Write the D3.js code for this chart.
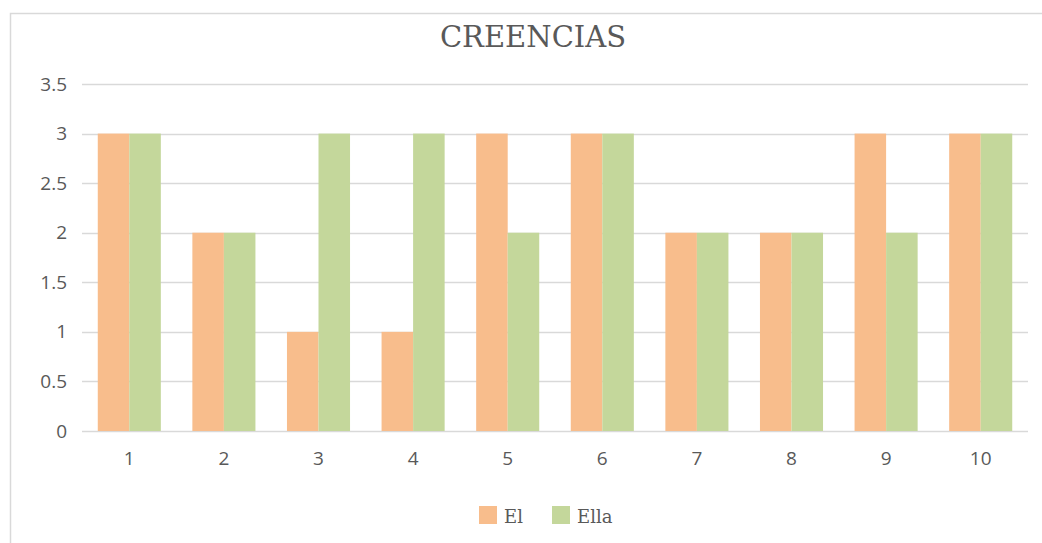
<!DOCTYPE html>
<html>
<head>
<meta charset="utf-8">
<script src="https://cdn.jsdelivr.net/npm/d3@7"></script>
<style>
  body { margin: 0; background: #fff; }
</style>
</head>
<body>
<div id="chart"></div>
<script>
var categories = ["1", "2", "3", "4", "5", "6", "7", "8", "9", "10"];
var el = [3, 2, 1, 1, 3, 3, 2, 2, 3, 3];
var ella = [3, 2, 3, 3, 2, 3, 2, 2, 2, 3];
var seriesNames = ["El", "Ella"];
var colors = ["#F8BD8C", "#C4D79B"];
var yTicks = [0, 0.5, 1, 1.5, 2, 2.5, 3, 3.5];

var W = 1042, H = 543;
var margin = { top: 84, left: 82, right: 14, bottom: 112 };
var width = W - margin.left - margin.right,
    height = H - margin.top - margin.bottom;

var svg = d3.select("#chart").append("svg")
    .attr("width", W).attr("height", H);

// chart frame
svg.append("path")
    .attr("d", "M10.5," + H + "V13.5H" + W)
    .attr("fill", "none").attr("stroke", "#d9d9d9").attr("stroke-width", 1.5);

svg.append("text")
    .attr("x", 533).attr("y", 47)
    .attr("text-anchor", "middle")
    .style("font-family", "'DejaVu Serif', serif")
    .style("font-size", "29px")
    .style("fill", "#595959")
    .text("CREENCIAS");

var g = svg.append("g")
    .attr("transform", "translate(" + margin.left + "," + margin.top + ")");

var x = d3.scaleBand().domain(categories).range([0, width]).paddingInner(1 / 3).paddingOuter(1 / 6);
var x1 = d3.scaleBand().domain(seriesNames).range([0, x.bandwidth()]);
var y = d3.scaleLinear().domain([0, 3.5]).range([height, 0]);

// gridlines
g.append("g").selectAll("line")
    .data(yTicks)
    .enter().append("line")
    .attr("x1", 0).attr("x2", width)
    .attr("y1", function(d) { return Math.round(y(d)) + 0.5; })
    .attr("y2", function(d) { return Math.round(y(d)) + 0.5; })
    .attr("stroke", "#d9d9d9").attr("stroke-width", 1.3);

var yAxis = d3.axisLeft(y).tickValues(yTicks).tickSize(0).tickPadding(15)
    .tickFormat(function(d) { return d; });
var ya = g.append("g").call(yAxis);
ya.select(".domain").remove();
ya.selectAll("text")
    .style("font-family", "'Open Sans', sans-serif")
    .style("font-size", "19px")
    .style("fill", "#595959");

var xAxis = d3.axisBottom(x).tickSize(0).tickPadding(21);
var xa = g.append("g").attr("transform", "translate(0," + height + ")").call(xAxis);
xa.select(".domain").remove();
xa.selectAll("text")
    .style("font-family", "'Open Sans', sans-serif")
    .style("font-size", "19px")
    .style("fill", "#595959");

var data = categories.map(function(c, i) {
    return { cat: c, values: [el[i], ella[i]] };
});

g.append("g").selectAll("g")
    .data(data)
    .enter().append("g")
    .attr("transform", function(d) { return "translate(" + x(d.cat) + ",0)"; })
    .selectAll("rect")
    .data(function(d) { return d.values.map(function(v, j) { return { s: seriesNames[j], v: v, j: j }; }); })
    .enter().append("rect")
    .attr("x", function(d) { return x1(d.s); })
    .attr("width", x1.bandwidth())
    .attr("y", function(d) { return y(d.v); })
    .attr("height", function(d) { return height - y(d.v); })
    .attr("fill", function(d) { return colors[d.j]; });

// legend
var legendX = [479, 552];
var lg = svg.append("g").selectAll("g")
    .data(seriesNames)
    .enter().append("g")
    .attr("transform", function(d, i) { return "translate(" + legendX[i] + ",506)"; });
lg.append("rect")
    .attr("width", 18).attr("height", 18)
    .attr("fill", function(d, i) { return colors[i]; });
lg.append("text")
    .attr("x", 25).attr("y", 17)
    .style("font-family", "'DejaVu Serif', serif")
    .style("font-size", "18px")
    .style("fill", "#595959")
    .text(function(d) { return d; });
</script>
</body>
</html>
